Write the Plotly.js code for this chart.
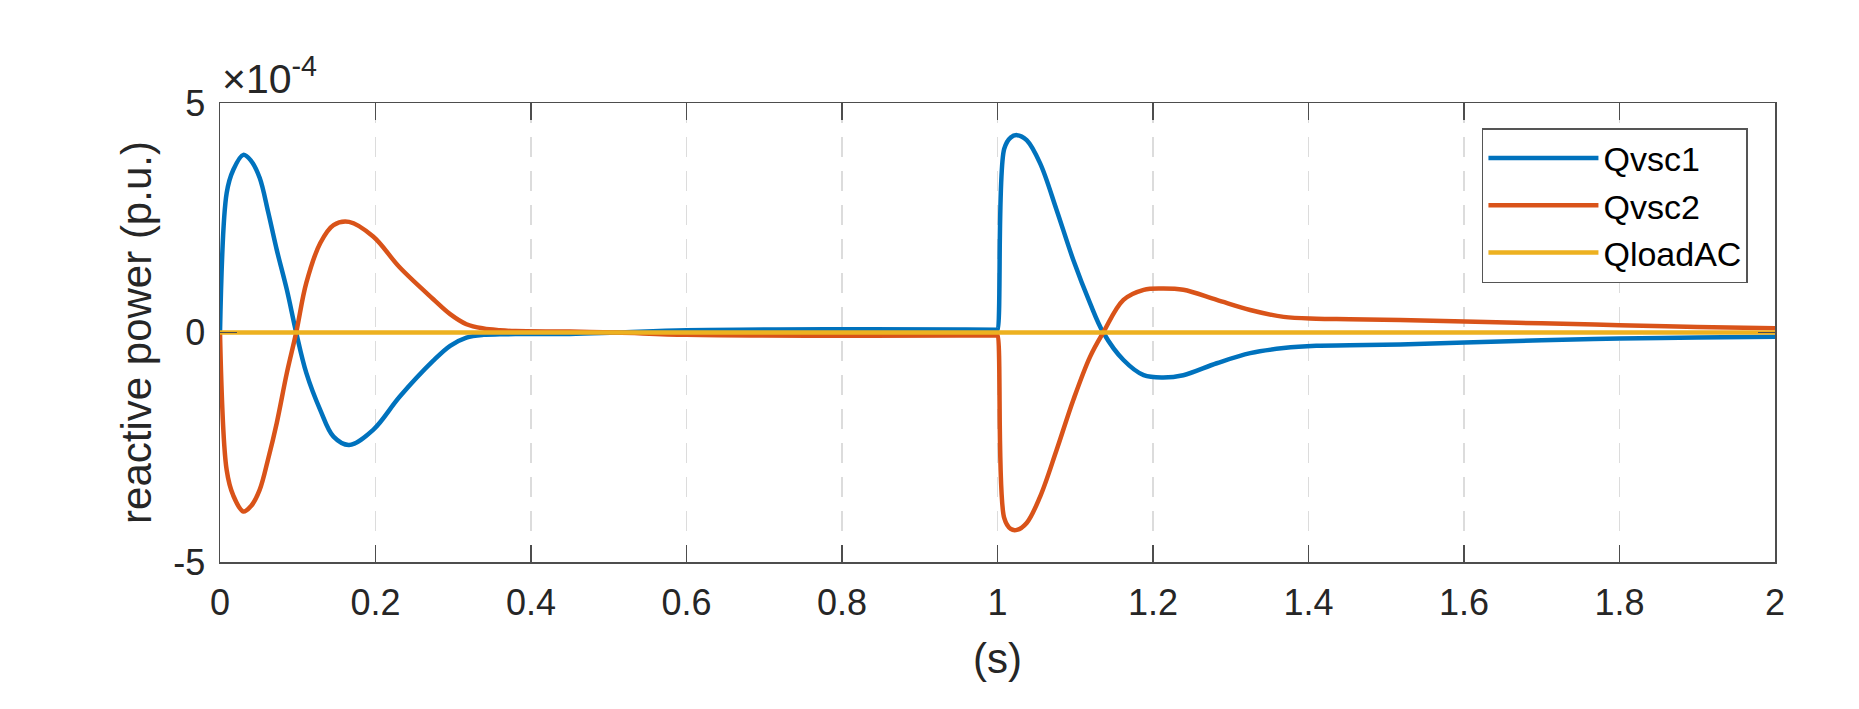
<!DOCTYPE html>
<html>
<head>
<meta charset="utf-8">
<script src="https://cdn.plot.ly/plotly-3.0.1.min.js"></script>
<style>html,body{margin:0;padding:0;background:#fff;}#chart{width:1859px;height:709px;}</style>
</head>
<body>
<div id="chart"></div>
<script>
// time (s)
const time = [0, 0.0086, 0.017, 0.03, 0.04, 0.051, 0.062, 0.073, 0.086, 0.098, 0.111, 0.129, 0.146, 0.166, 0.197, 0.231, 0.274, 0.296, 0.317, 0.339, 0.36, 0.38, 0.45, 0.51, 0.6, 0.8, 0.95, 0.999, 1.0, 1.0086, 1.017, 1.025, 1.0375, 1.0547, 1.076, 1.0975, 1.119, 1.136, 1.162, 1.188, 1.213, 1.239, 1.282, 1.325, 1.368, 1.41, 1.453, 1.518, 1.601, 1.7, 1.8, 1.9, 2.0];
// reactive power, in units of 1e-4 p.u.
const qvsc1 = [0, 3.04, 3.54, 3.87, 3.74, 3.37, 2.62, 1.8, 0.93, 0, -0.88, -1.69, -2.27, -2.45, -2.12, -1.40, -0.62, -0.29, -0.11, -0.05, -0.04, -0.035, -0.03, 0, 0.05, 0.07, 0.065, 0.06, 0.06, 4.0, 4.25, 4.30, 4.19, 3.69, 2.67, 1.58, 0.64, 0, -0.6, -0.93, -0.98, -0.93, -0.67, -0.45, -0.34, -0.29, -0.28, -0.26, -0.22, -0.17, -0.13, -0.11, -0.094];
const qvsc2 = [0, -3.0, -3.55, -3.9, -3.78, -3.43, -2.75, -1.97, -0.88, 0, 1.08, 1.95, 2.34, 2.41, 2.09, 1.42, 0.73, 0.40, 0.18, 0.087, 0.05, 0.03, 0.02, 0, -0.05, -0.07, -0.065, -0.06, -0.06, -4.04, -4.28, -4.30, -4.15, -3.58, -2.56, -1.47, -0.53, 0, 0.71, 0.93, 0.96, 0.93, 0.71, 0.49, 0.34, 0.30, 0.29, 0.27, 0.24, 0.20, 0.16, 0.12, 0.094];
const qloadAC = time.map(() => 0);
const seriesNames = ["Qvsc1", "Qvsc2", "QloadAC"];
const xTicks = [0, 0.2, 0.4, 0.6, 0.8, 1, 1.2, 1.4, 1.6, 1.8, 2];
const xTickText = ["0", "0.2", "0.4", "0.6", "0.8", "1", "1.2", "1.4", "1.6", "1.8", "2"];
const yTicks = [-5, 0, 5];
const yTickText = ["-5", "0", "5"];

const FONT = "Liberation Sans, Arial, Helvetica, sans-serif";
const colors = ["#0072BD", "#D95319", "#EDB120"];
const series = [qvsc1, qvsc2, qloadAC];

const traces = series.map((s, i) => ({
  type: "scatter", mode: "lines", x: time, y: s, name: seriesNames[i],
  line: {color: colors[i], width: 4.5, shape: "spline", smoothing: 1}
}));

const axisCommon = {
  showline: true, linecolor: "#4d4d4d", linewidth: 1.5, mirror: "ticks",
  ticks: "inside", ticklen: 17, tickwidth: 1.5, tickcolor: "#4d4d4d",
  tickfont: {family: FONT, size: 36, color: "#262626"},
  zeroline: false
};

const layout = {
  width: 1859, height: 709,
  paper_bgcolor: "#ffffff", plot_bgcolor: "#ffffff",
  margin: {l: 220, r: 84, t: 103, b: 147},
  showlegend: true,
  legend: {
    x: 0.9826, xanchor: "right", y: 0.9455, yanchor: "top",
    bgcolor: "#ffffff", bordercolor: "#555555", borderwidth: 1.5,
    font: {family: FONT, size: 34, color: "#000000"},
    itemwidth: 110
  },
  xaxis: Object.assign({}, axisCommon, {
    range: [0, 2], tickvals: xTicks, ticktext: xTickText,
    ticklabelstandoff: 8,
    showgrid: true, gridcolor: "#dcdcdc", gridwidth: 1.5, griddash: "20px,14px",
    title: {text: "(s)", font: {family: FONT, size: 42, color: "#262626"}, standoff: 22}
  }),
  yaxis: Object.assign({}, axisCommon, {
    range: [-5, 5], tickvals: yTicks, ticktext: yTickText,
    ticklabelstandoff: 6,
    showgrid: false,
    title: {text: "reactive power (p.u.)", font: {family: FONT, size: 42, color: "#262626"}, standoff: 8}
  }),
  annotations: [{
    xref: "paper", yref: "paper", x: 0, y: 1, xanchor: "left", yanchor: "bottom",
    xshift: 0, yshift: -1, showarrow: false,
    text: "×10<sup>-4</sup>", font: {family: FONT, size: 41, color: "#262626"}
  }]
};

Plotly.newPlot("chart", traces, layout, {displayModeBar: false, staticPlot: true});
</script>
</body>
</html>
